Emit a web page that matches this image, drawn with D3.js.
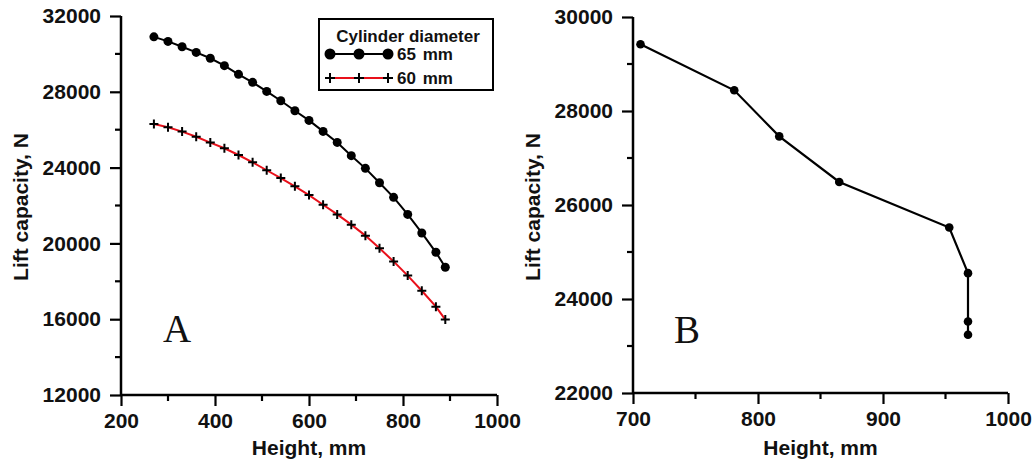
<!DOCTYPE html>
<html>
<head>
<meta charset="utf-8">
<script src="https://cdn.jsdelivr.net/npm/d3@7"></script>
<style>
  html, body { margin: 0; padding: 0; background: #fff; }
  svg { display: block; }
  .tick text { font-family: "Liberation Sans", Arial, sans-serif; font-weight: bold; font-size: 21px; fill: #111; }
  .title { font-family: "Liberation Sans", Arial, sans-serif; font-weight: bold; font-size: 21px; fill: #111; }
</style>
</head>
<body>
<svg id="chart" width="1034" height="462"></svg>
<script>
// ---- Panel A data ----
const heightsA = [270, 300, 330, 360, 390, 420, 450, 480, 510, 540, 570, 600, 630, 660, 690, 720, 750, 780, 810, 840, 870, 890];
const lift65 = [30900, 30660, 30380, 30080, 29770, 29380, 28920, 28500, 28020, 27530, 27000, 26490, 25910, 25330, 24630, 23960, 23200, 22430, 21530, 20550, 19530, 18740];
const lift60 = [26300, 26125, 25900, 25630, 25320, 25020, 24665, 24280, 23860, 23450, 23010, 22550, 22040, 21530, 20990, 20410, 19740, 19050, 18300, 17500, 16660, 15980];
const seriesNames = ["65 mm", "60 mm"];
const legendTitle = "Cylinder diameter";
const xTicksA = [200, 400, 600, 800, 1000];
const yTicksA = [12000, 16000, 20000, 24000, 28000, 32000];

// ---- Panel B data ----
const heightsB = [706, 781, 817, 865, 953, 968, 968, 968];
const liftB = [29420, 28440, 27460, 26490, 25520, 24550, 23520, 23240];
const xTicksB = [700, 800, 900, 1000];
const yTicksB = [22000, 24000, 26000, 28000, 30000];

const svg = d3.select("#chart");

function drawAxes(g, x, y, xTicks, yTicks, xMinor, yMinor) {
  const ax = g.append("g").attr("transform", `translate(0,${y.range()[0]})`)
    .call(d3.axisBottom(x).tickValues(xTicks).tickFormat(d3.format("d")).tickSize(11).tickSizeOuter(0).tickPadding(7));
  const ay = g.append("g").attr("transform", `translate(${x.range()[0]},0)`)
    .call(d3.axisLeft(y).tickValues(yTicks).tickFormat(d3.format("d")).tickSize(11).tickSizeOuter(0).tickPadding(9));
  [ax, ay].forEach(a => {
    a.select(".domain").attr("stroke", "#000").attr("stroke-width", 2.5);
    a.selectAll(".tick line").attr("stroke", "#000").attr("stroke-width", 2.2);
  });
  g.append("g").selectAll("line").data(xMinor).join("line")
    .attr("x1", d => x(d)).attr("x2", d => x(d))
    .attr("y1", y.range()[0]).attr("y2", y.range()[0] + 6)
    .attr("stroke", "#000").attr("stroke-width", 2.2);
  g.append("g").selectAll("line").data(yMinor).join("line")
    .attr("y1", d => y(d)).attr("y2", d => y(d))
    .attr("x1", x.range()[0]).attr("x2", x.range()[0] - 6)
    .attr("stroke", "#000").attr("stroke-width", 2.2);
  ax.select(".domain").attr("d", `M${x.range()[0]},0H${x.range()[1]}`);
  ay.select(".domain").attr("d", `M0,${y.range()[0]}V${y.range()[1]}`);
}

function drawTitles(g, x, y, cxLabel, cyLabel) {
  g.append("text").attr("class", "title")
    .attr("x", (x.range()[0] + x.range()[1]) / 2).attr("y", 455)
    .attr("text-anchor", "middle").text("Height, mm");
  g.append("text").attr("class", "title")
    .attr("transform", `translate(${cxLabel},${cyLabel}) rotate(-90)`)
    .attr("text-anchor", "middle").text("Lift capacity, N");
}

// ===== Panel A =====
const xA = d3.scaleLinear().domain([200, 1000]).range([121, 497]);
const yA = d3.scaleLinear().domain([12000, 32000]).range([395, 16]);
const gA = svg.append("g");
drawAxes(gA, xA, yA, xTicksA, yTicksA, [300, 500, 700, 900], [14000, 18000, 22000, 26000, 30000]);
drawTitles(gA, xA, yA, 28, 207);

const lineA = d3.line().x(d => xA(d[0])).y(d => yA(d[1]));
const d65 = heightsA.map((h, i) => [h, lift65[i]]);
const d60 = heightsA.map((h, i) => [h, lift60[i]]);

gA.append("path").datum(d65).attr("d", lineA).attr("fill", "none").attr("stroke", "#000").attr("stroke-width", 2);
gA.append("path").datum(d60).attr("d", lineA).attr("fill", "none").attr("stroke", "#e8101a").attr("stroke-width", 2);
gA.append("g").selectAll("circle").data(d65).join("circle")
  .attr("cx", d => xA(d[0])).attr("cy", d => yA(d[1])).attr("r", 4.5).attr("fill", "#000");
const plusSize = 4.5;
gA.append("g").selectAll("path").data(d60).join("path")
  .attr("d", d => `M${xA(d[0]) - plusSize},${yA(d[1])}H${xA(d[0]) + plusSize}M${xA(d[0])},${yA(d[1]) - plusSize}V${yA(d[1]) + plusSize}`)
  .attr("stroke", "#000").attr("stroke-width", 2).attr("fill", "none");

gA.append("text").attr("x", 163).attr("y", 342)
  .attr("font-family", "'Liberation Serif', 'Times New Roman', serif").attr("font-size", 39).attr("fill", "#111").text("A");

// legend
const lg = gA.append("g");
lg.append("rect").attr("x", 319).attr("y", 19).attr("width", 174).attr("height", 71)
  .attr("fill", "#fff").attr("stroke", "#000").attr("stroke-width", 2);
lg.append("text").attr("x", 408).attr("y", 42).attr("text-anchor", "middle")
  .attr("font-family", "'Liberation Sans', Arial, sans-serif").attr("font-weight", "bold").attr("font-size", 17).attr("fill", "#111")
  .text(legendTitle);
const legX = [330, 359, 388];
lg.append("line").attr("x1", 330).attr("x2", 388).attr("y1", 54).attr("y2", 54).attr("stroke", "#000").attr("stroke-width", 2);
lg.selectAll("circle.l").data(legX).join("circle").attr("class", "l")
  .attr("cx", d => d).attr("cy", 54).attr("r", 5.5).attr("fill", "#000");
lg.append("text").attr("x", 397).attr("y", 60)
  .attr("font-family", "'Liberation Sans', Arial, sans-serif").attr("font-weight", "bold").attr("font-size", 17).attr("fill", "#111")
  .attr("word-spacing", 2)
  .text(seriesNames[0]);
lg.append("line").attr("x1", 330).attr("x2", 388).attr("y1", 78).attr("y2", 78).attr("stroke", "#e8101a").attr("stroke-width", 2);
lg.selectAll("path.l").data(legX).join("path").attr("class", "l")
  .attr("d", d => `M${d - 5},78H${d + 5}M${d},73V83`).attr("stroke", "#000").attr("stroke-width", 2);
lg.append("text").attr("x", 397).attr("y", 84)
  .attr("font-family", "'Liberation Sans', Arial, sans-serif").attr("font-weight", "bold").attr("font-size", 17).attr("fill", "#111")
  .attr("word-spacing", 2)
  .text(seriesNames[1]);

// ===== Panel B =====
const xB = d3.scaleLinear().domain([700, 1000]).range([633, 1008]);
const yB = d3.scaleLinear().domain([22000, 30000]).range([393, 17]);
const gB = svg.append("g");
drawAxes(gB, xB, yB, xTicksB, yTicksB, [750, 850, 950], [23000, 25000, 27000, 29000]);
drawTitles(gB, xB, yB, 540, 207);

const dB = heightsB.map((h, i) => [h, liftB[i]]);
const lineB = d3.line().x(d => xB(d[0])).y(d => yB(d[1]));
gB.append("path").datum(dB).attr("d", lineB).attr("fill", "none").attr("stroke", "#000").attr("stroke-width", 2.2);
gB.append("g").selectAll("circle").data(dB).join("circle")
  .attr("cx", d => xB(d[0])).attr("cy", d => yB(d[1])).attr("r", 4.3).attr("fill", "#000");

gB.append("text").attr("x", 674).attr("y", 343)
  .attr("font-family", "'Liberation Serif', 'Times New Roman', serif").attr("font-size", 39).attr("fill", "#111").text("B");
</script>
</body>
</html>
